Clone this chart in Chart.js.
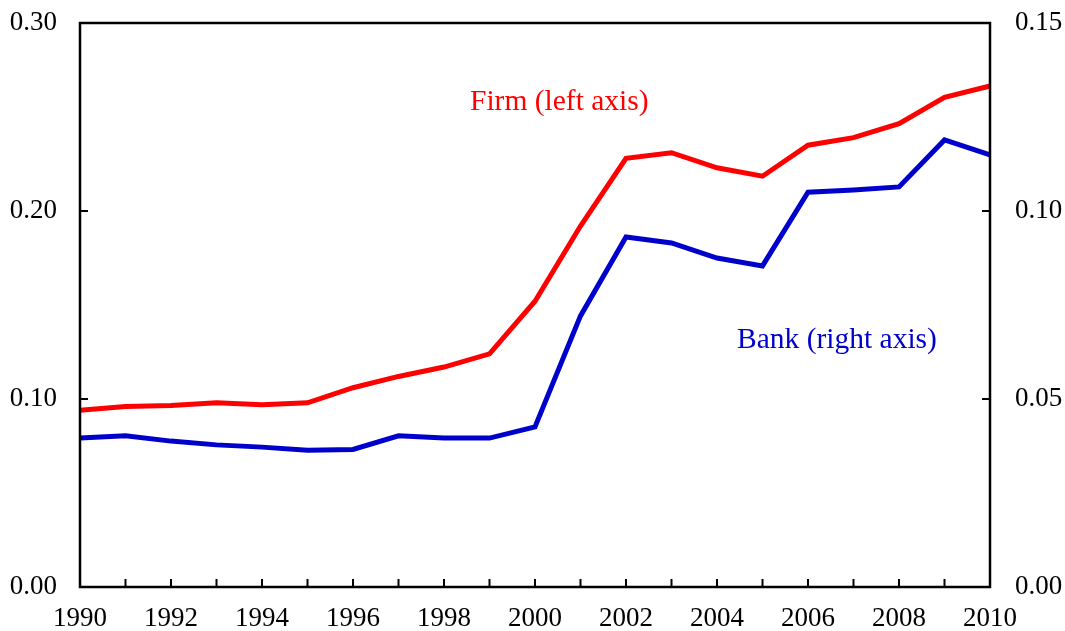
<!DOCTYPE html>
<html lang="en">
<head>
  <meta charset="utf-8">
  <title>Firm and Bank</title>
  <script src="https://cdn.jsdelivr.net/npm/chart.js"></script>
  <style>
    body { margin: 0; background: #fff; }
  </style>
</head>
<body>
<canvas id="chart" width="1065" height="631"></canvas>

<script>
  const years = [1990, 1991, 1992, 1993, 1994, 1995, 1996, 1997, 1998, 1999, 2000,
                 2001, 2002, 2003, 2004, 2005, 2006, 2007, 2008, 2009, 2010];
  // left axis
  const firm = [0.094, 0.096, 0.0965, 0.098, 0.097, 0.098, 0.106, 0.112, 0.117, 0.124, 0.152,
                0.192, 0.228, 0.231, 0.223, 0.2185, 0.235, 0.239, 0.2465, 0.2605, 0.2665];
  // right axis
  const bank = [0.0396, 0.0402, 0.0388, 0.0378, 0.0372, 0.0364, 0.0366, 0.0402, 0.0396, 0.0396, 0.0426,
                0.0721, 0.0931, 0.0915, 0.0875, 0.0854, 0.1050, 0.1056, 0.1064, 0.1189, 0.1149];
  const leftTicks = [0.10, 0.20];
  const rightTicks = [0.05, 0.10];

  const font = { family: 'Liberation Serif', size: 27 };

  // frame, inward ticks and series labels
  const frame = {
    id: 'frame',
    afterDraw(chart) {
      const ctx = chart.ctx;
      const a = chart.chartArea;
      const x = chart.scales.x, y = chart.scales.y, y1 = chart.scales.y1;
      ctx.save();
      ctx.strokeStyle = '#000';
      ctx.lineWidth = 2.5;
      ctx.strokeRect(a.left, a.top, a.right - a.left, a.bottom - a.top);
      ctx.lineWidth = 2;
      ctx.beginPath();
      years.forEach((yr, i) => {
        if (i === 0 || i === years.length - 1) return;
        const px = x.getPixelForValue(i);
        ctx.moveTo(px, a.bottom);
        ctx.lineTo(px, a.bottom - 8);
      });
      leftTicks.forEach(v => {
        const py = y.getPixelForValue(v);
        ctx.moveTo(a.left, py);
        ctx.lineTo(a.left + 8, py);
      });
      rightTicks.forEach(v => {
        const py = y1.getPixelForValue(v);
        ctx.moveTo(a.right, py);
        ctx.lineTo(a.right - 8, py);
      });
      ctx.stroke();

      ctx.font = '29.5px "Liberation Serif"';
      ctx.textBaseline = 'alphabetic';
      ctx.fillStyle = '#ff0000';
      ctx.fillText('Firm (left axis)', 470, 110);
      ctx.fillStyle = '#0000cc';
      ctx.fillText('Bank (right axis)', 737, 348);
      ctx.restore();
    }
  };

  const noPad = s => { s.paddingTop = 0; s.paddingBottom = 0; s.paddingLeft = 0; s.paddingRight = 0; };

  new Chart(document.getElementById('chart'), {
    type: 'line',
    data: {
      labels: years,
      datasets: [{
        label: 'Firm (left axis)',
        data: firm,
        yAxisID: 'y',
        borderColor: '#ff0000',
        borderWidth: 5,
        pointRadius: 0,
        tension: 0
      }, {
        label: 'Bank (right axis)',
        data: bank,
        yAxisID: 'y1',
        borderColor: '#0000cc',
        borderWidth: 5,
        pointRadius: 0,
        tension: 0
      }]
    },
    options: {
      responsive: false,
      animation: false,
      layout: { padding: { top: 23, left: 0, right: 0, bottom: 0 } },
      plugins: {
        legend: { display: false },
        tooltip: { enabled: false }
      },
      scales: {
        x: {
          offset: false,
          grid: { display: false, drawTicks: false },
          border: { display: false },
          ticks: {
            autoSkip: false,
            maxRotation: 0,
            padding: 16,
            color: '#000',
            font: font,
            callback: (v, i) => years[i] % 2 === 0 ? String(years[i]) : ''
          },
          afterFit: s => { s.height = 44; noPad(s); }
        },
        y: {
          position: 'left',
          min: 0,
          max: 0.30,
          grid: { display: false, drawTicks: false },
          border: { display: false },
          ticks: {
            stepSize: 0.10,
            padding: 23,
            color: '#000',
            font: font,
            callback: v => v.toFixed(2)
          },
          afterFit: s => { s.width = 80; noPad(s); }
        },
        y1: {
          position: 'right',
          min: 0,
          max: 0.15,
          grid: { display: false, drawTicks: false },
          border: { display: false },
          ticks: {
            stepSize: 0.05,
            padding: 25,
            color: '#000',
            font: font,
            callback: v => v.toFixed(2)
          },
          afterFit: s => { s.width = 75; noPad(s); }
        }
      }
    },
    plugins: [frame]
  });
</script>

</body>
</html>
